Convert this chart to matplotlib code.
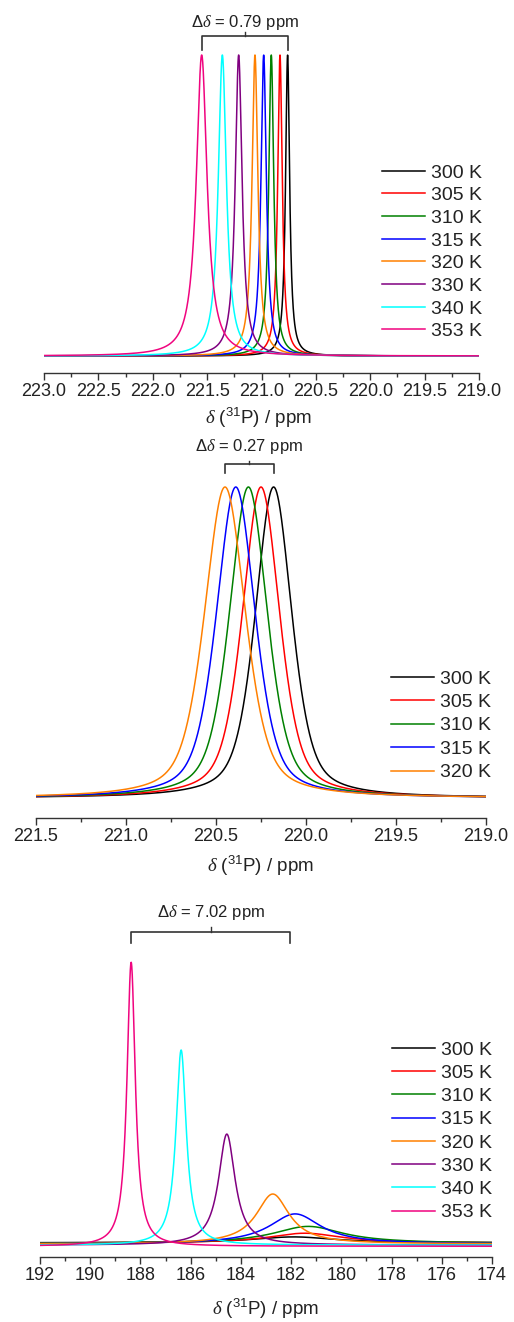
import numpy as np
import matplotlib
matplotlib.use('Agg')
import matplotlib.pyplot as plt
from matplotlib.transforms import blended_transform_factory

plt.rcParams['font.family'] = ['Liberation Sans', 'DejaVu Sans']
plt.rcParams['mathtext.fontset'] = 'custom'
plt.rcParams['mathtext.rm'] = 'Liberation Sans'
plt.rcParams['mathtext.it'] = 'Liberation Serif:italic'
plt.rcParams['mathtext.default'] = 'regular'

W, H = 514, 1322

# ---- panel 1: 8 temperatures, narrow lines ----
temps_a = ['300 K', '305 K', '310 K', '315 K', '320 K', '330 K', '340 K', '353 K']
colors_a = ['#000000', '#FF0000', '#008000', '#0000FF', '#FF8000', '#800080', '#00FFFF', '#F0047F']
centers_a = [220.76, 220.83, 220.91, 220.98, 221.06, 221.21, 221.36, 221.55]
widths_a = [0.045, 0.05, 0.055, 0.06, 0.065, 0.075, 0.09, 0.12]
heights_a = [1.0, 1.0, 1.0, 1.0, 1.0, 1.0, 1.0, 1.0]
ticks_a = [223.0, 222.5, 222.0, 221.5, 221.0, 220.5, 220.0, 219.5, 219.0]

# ---- panel 2: 5 temperatures ----
temps_b = ['300 K', '305 K', '310 K', '315 K', '320 K']
colors_b = colors_a[:5]
centers_b = [220.18, 220.25, 220.32, 220.39, 220.45]
widths_b = [0.24, 0.245, 0.25, 0.255, 0.27]
heights_b = [1.0, 1.0, 1.0, 1.0, 1.0]
ticks_b = [221.5, 221.0, 220.5, 220.0, 219.5, 219.0]

# ---- panel 3: 8 temperatures, second site ----
temps_c = temps_a
colors_c = colors_a
centers_c = [181.9, 181.45, 181.32, 181.84, 182.73, 184.56, 186.38, 188.37]
widths_c = [4.0, 3.6, 3.4, 2.5, 1.6, 0.8, 0.5, 0.4]
heights_c = [0.021, 0.035, 0.060, 0.106, 0.176, 0.391, 0.687, 1.0]
offsets_c = [0.004, 0.003, 0.002, 0.0, 0.0, -0.004, -0.004, -0.008]
ticks_c = [192, 190, 188, 186, 184, 182, 180, 178, 176, 174]

xlabel = r'$\it{\delta}$ ($^{31}$P) / ppm'
TXT = '#222222'


def lineshape(x, x0, w, h, eta=1.0):
    # pseudo-Voigt: eta=1 is pure Lorentzian
    u = 2 * (x - x0) / w
    lor = 1 / (1 + u ** 2)
    gau = np.exp(-np.log(2) * u ** 2)
    return h * (eta * lor + (1 - eta) * gau)


def add_panel(fig, left, right, top, spine, base, peak, xlim, ticks, minor, fmt):
    # pixel geometry -> axes rect + ylim
    ax = fig.add_axes([left / W, 1 - spine / H, (right - left) / W, (spine - top) / H])
    scale = base - peak
    ax.set_ylim(-(spine - base) / scale, (base - top) / scale)
    ax.set_xlim(*xlim)
    for s in ['left', 'right', 'top']:
        ax.spines[s].set_visible(False)
    ax.spines['bottom'].set_linewidth(1.0)
    ax.spines['bottom'].set_color('#333333')
    ax.set_yticks([])
    ax.set_xticks(ticks)
    ax.set_xticklabels([fmt.format(t) for t in ticks], fontsize=13, color=TXT)
    ax.set_xticks(minor, minor=True)
    ax.tick_params(axis='x', which='major', direction='out', length=5, width=1.0, pad=2.5,
                   color='#333333')
    ax.tick_params(axis='x', which='minor', direction='out', length=3, width=1.0, color='#333333')
    ax.patch.set_alpha(0)
    return ax


def bracket(fig, ax, x1, x2, ytop, yend, ytick, ytext, label):
    tr = blended_transform_factory(ax.transData, fig.transFigure)
    f = lambda p: 1 - p / H
    ax.plot([x1, x1, x2, x2], [f(yend), f(ytop), f(ytop), f(yend)], color='#333333',
            lw=1.2, transform=tr, clip_on=False)
    xm = (x1 + x2) / 2
    ax.plot([xm, xm], [f(ytop), f(ytick)], color='#333333', lw=1.0, transform=tr, clip_on=False)
    ax.text(xm, f(ytext), label, transform=tr, ha='center', va='center', fontsize=12, color=TXT)


def add_legend(ax, x_px, y_px, spacing):
    ax.legend(loc='upper left', bbox_to_anchor=(x_px / W, 1 - y_px / H),
              bbox_transform=ax.figure.transFigure, frameon=False, fontsize=14,
              handlelength=2.2, handletextpad=0.3, labelspacing=spacing, borderpad=0,
              borderaxespad=0, labelcolor=TXT)


fig = plt.figure(figsize=(W / 100, H / 100), dpi=100)

# panel 1
ax1 = add_panel(fig, 44, 479, 40, 373, 356, 55, (223.0, 219.0), ticks_a,
                np.arange(219.25, 223.0, 0.5), '{:.1f}')
x = np.linspace(223.0, 219.0, 4000)
for lab, c, x0, w, h in zip(temps_a, colors_a, centers_a, widths_a, heights_a):
    ax1.plot(x, lineshape(x, x0, w, h), color=c, lw=1.1, label=lab)
add_legend(ax1, 382, 164, 0.26)
bracket(fig, ax1, centers_a[-1], centers_a[0], 36, 50, 32, 23, r'$\Delta\it{\delta}$ = 0.79 ppm')
fig.text(259 / W, 1 - 418 / H, xlabel, ha='center', va='center', fontsize=13.5, color=TXT)

# panel 2
ax2 = add_panel(fig, 36, 486, 478, 818, 798, 487, (221.5, 219.0), ticks_b,
                np.arange(219.25, 221.5, 0.5), '{:.1f}')
x = np.linspace(221.5, 219.0, 3000)
for lab, c, x0, w, h in zip(temps_b, colors_b, centers_b, widths_b, heights_b):
    ax2.plot(x, lineshape(x, x0, w, h, eta=0.5), color=c, lw=1.1, label=lab)
add_legend(ax2, 391, 670, 0.3)
bracket(fig, ax2, centers_b[-1], centers_b[0], 464, 473, 461, 447, r'$\Delta\it{\delta}$ = 0.27 ppm')
fig.text(261 / W, 1 - 866 / H, xlabel, ha='center', va='center', fontsize=13.5, color=TXT)

# panel 3
ax3 = add_panel(fig, 40, 492, 955, 1257, 1244, 960, (192, 174), ticks_c,
                np.arange(175, 192, 2), '{:d}')
x = np.linspace(192, 174, 4000)
for lab, c, x0, w, h, o in zip(temps_c, colors_c, centers_c, widths_c, heights_c, offsets_c):
    ax3.plot(x, lineshape(x, x0, w, h) + o, color=c, lw=1.1, label=lab)
add_legend(ax3, 392, 1041, 0.29)
bracket(fig, ax3, 188.37, 182.04, 932, 943, 927, 912, r'$\Delta\it{\delta}$ = 7.02 ppm')
fig.text(266 / W, 1 - 1309 / H, xlabel, ha='center', va='center', fontsize=13.5, color=TXT)

fig.savefig('out.png', dpi=100)
